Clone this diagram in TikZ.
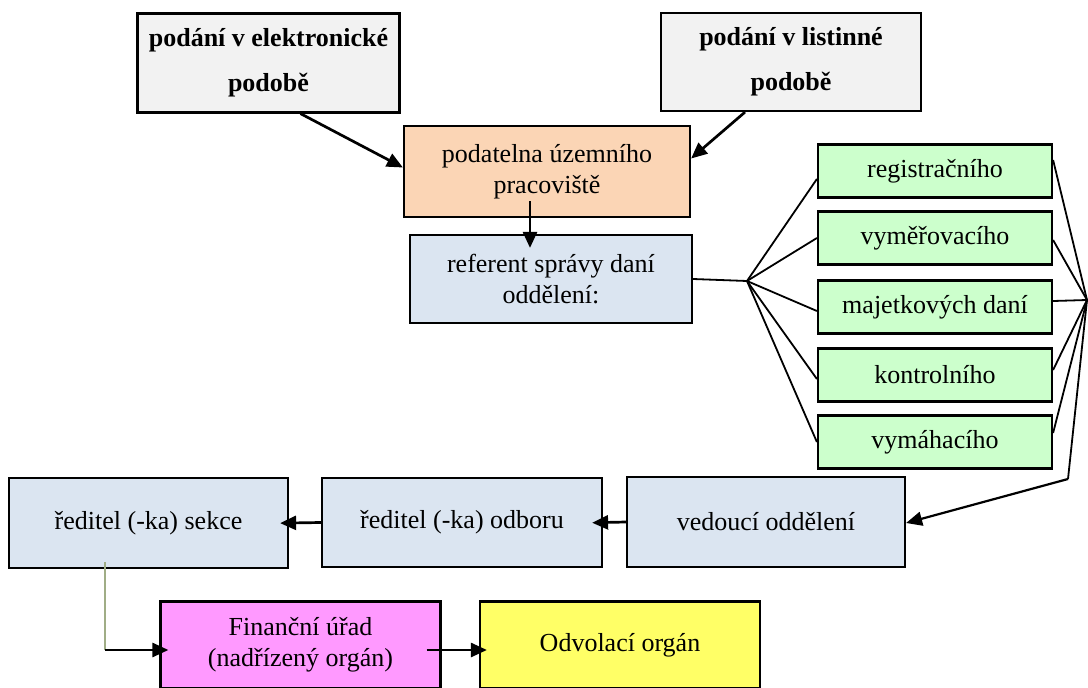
\documentclass[tikz,border=0pt]{standalone}
\usepackage{fontspec}
\setmainfont{Liberation Serif}
\usetikzlibrary{arrows.meta}
\definecolor{grayfill}{HTML}{F2F2F2}
\definecolor{peach}{HTML}{FBD5B5}
\definecolor{lblue}{HTML}{DBE5F1}
\definecolor{lgreen}{HTML}{CCFFCC}
\definecolor{pink}{HTML}{FF99FF}
\definecolor{lyellow}{HTML}{FFFF66}
\definecolor{olivec}{HTML}{A0AD86}
\tikzset{
  box/.style={draw=black, line width=2.2pt, align=center, inner sep=0pt,
    font=\fontsize{26}{31}\selectfont},
  boldbox/.style={box, fill=grayfill, font=\fontsize{26}{45}\selectfont\bfseries,
    minimum width=262pt, minimum height=99pt},
  greenbox/.style={box, fill=lgreen, minimum width=234pt, minimum height=53pt},
  bluebox/.style={box, fill=lblue, minimum width=280pt, minimum height=89pt},
  arr/.style={line width=2.7pt, -{Triangle[length=16pt,width=14pt]}},
  fan/.style={line width=1.8pt},
}
\begin{document}
\begin{tikzpicture}[x=1pt,y=-1pt]
\useasboundingbox (0,0) rectangle (1088,688);
% top boxes
\node[boldbox] (elek) at (268.5,63) {podání v elektronické\\podobě};
\node[boldbox, minimum width=260pt, minimum height=98pt] (list) at (791,62) {podání v listinné\\podobě};
\node[box, fill=peach, minimum width=286pt, minimum height=91pt] (podat) at (547,171.5) {podatelna územního\\pracoviště};
\node[bluebox, minimum width=282pt, minimum height=88pt] (ref) at (551,279) {referent správy daní\\oddělení:};
% green boxes
\node[greenbox] (g1) at (935,171) {registračního};
\node[greenbox] (g2) at (935,238) {vyměřovacího};
\node[greenbox] (g3) at (935,307) {majetkových daní};
\node[greenbox] (g4) at (935,375) {kontrolního};
\node[greenbox] (g5) at (935,442) {vymáhacího};
% middle row
\node[bluebox, minimum width=278pt, minimum height=90pt] (ved) at (766,522) {vedoucí oddělení};
\node[bluebox] (odb) at (462,522.5) {ředitel (-ka) odboru};
\node[bluebox, minimum width=279pt, minimum height=90pt] (sek) at (148.5,523) {ředitel (-ka) sekce};
% bottom row
\node[box, fill=pink, minimum width=280pt, minimum height=87pt] (fin) at (300.5,645) {Finanční úřad\\(nadřízený orgán)};
\node[box, fill=lyellow, minimum width=280pt, minimum height=87pt] (odv) at (620,645) {Odvolací orgán};
% connectors top
\draw[arr] ([xshift=32pt]elek.south) -- ([yshift=4pt]podat.west);
\draw[arr] ([xshift=-46pt]list.south) -- ([yshift=13pt]podat.east);
\draw[arr, shorten >=-14pt] ([xshift=-17pt,yshift=17pt]podat.south) -- ([xshift=-21pt]ref.north);
% left fan
\coordinate (L) at (747,281);
\coordinate (R) at (1087,300);
\coordinate (Q) at (1068,479);
\draw[fan] (ref.east) -- (L);
\draw[fan] (L) -- ([yshift=-8pt]g1.west);
\draw[fan] (L) -- (g2.west);
\draw[fan] (L) -- ([yshift=-4pt]g3.west);
\draw[fan] (L) -- ([yshift=-4pt]g4.west);
\draw[fan] (L) -- (g5.west);
% right fan
\draw[fan] ([yshift=11pt]g1.east) -- (R);
\draw[fan] ([yshift=-2pt]g2.east) -- (R);
\draw[fan] ([yshift=6pt]g3.east) -- (R);
\draw[fan] ([yshift=5pt]g4.east) -- (R);
\draw[fan] ([yshift=9pt]g5.east) -- (R);
\draw[fan] (R) -- (Q);
\draw[arr, line width=2.2pt] (Q) -- ([yshift=-1pt]ved.east);
% middle arrows
\draw[arr, shorten >=-11pt] (ved.west) -- (odb.east);
\draw[arr, shorten >=-9pt] (odb.west) -- (sek.east);
% bottom
\coordinate (K) at (105,650);
\draw[olivec, line width=1.6pt] (K) ++(0,-88) -- (K);
\draw[arr, shorten >=-9pt] (K) -- (K -| fin.west);
\draw[arr, shorten >=-8pt] ([xshift=-15pt,yshift=-5pt]fin.east) -- ([yshift=-5pt]odv.west);
\end{tikzpicture}
\end{document}
